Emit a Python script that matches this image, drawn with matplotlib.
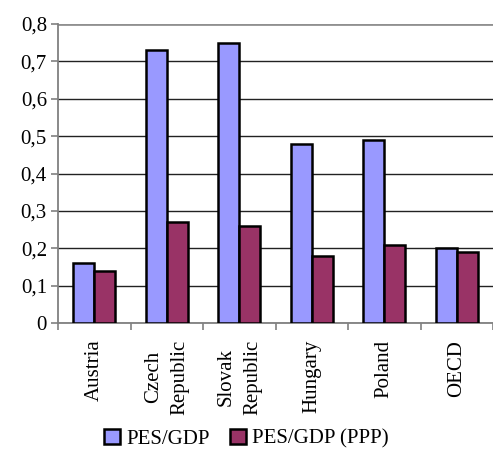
import numpy as np
import matplotlib.pyplot as plt
from matplotlib.ticker import FuncFormatter

categories = ["Austria", "Czech\nRepublic", "Slovak\nRepublic", "Hungary", "Poland", "OECD"]
pes_gdp = [0.16, 0.73, 0.75, 0.48, 0.49, 0.20]
pes_gdp_ppp = [0.14, 0.27, 0.26, 0.18, 0.21, 0.19]
series_names = ["PES/GDP", "PES/GDP (PPP)"]

plt.rcParams['font.family'] = ['Liberation Serif', 'DejaVu Serif']

fig = plt.figure(figsize=(4.93, 4.5), dpi=100)
ax = fig.add_axes([58 / 493, 1 - 323 / 450, 1 - 58 / 493, (323 - 24) / 450])

x = np.arange(len(categories))
w = 0.29
ax.bar(x - w / 2, pes_gdp, w, color="#9999FF", edgecolor="black", linewidth=1.8,
       label=series_names[0], zorder=3)
ax.bar(x + w / 2, pes_gdp_ppp, w, color="#993366", edgecolor="black", linewidth=1.8,
       label=series_names[1], zorder=3)

ax.set_ylim(0, 0.8)
ax.set_xlim(-0.5, 5.5 - 3 / 73)
ax.set_yticks(np.arange(0, 0.81, 0.1))
ax.yaxis.set_major_formatter(FuncFormatter(
    lambda v, p: "0" if abs(v) < 1e-9 else f"{v:.1f}".replace(".", ",")))
ax.grid(axis="y", color="#222222", linewidth=1.0, zorder=0)

# category ticks at the group boundaries, labels at centres
ax.set_xticks(np.arange(len(categories) + 1) - 0.5)
ax.set_xticklabels([])
ax.set_xticks(x, minor=True)
ax.set_xticklabels(categories, minor=True, rotation=90, fontsize=15,
                   va="top", ha="center", linespacing=1.55)
ax.tick_params(axis="x", which="minor", length=0, pad=12)
ax.tick_params(axis="x", which="major", length=5, color="#808080", width=1.2)
ax.tick_params(axis="y", length=5, color="#808080", width=1.2, labelsize=15, pad=3)

for s in ["top", "right"]:
    ax.spines[s].set_visible(False)
ax.spines["left"].set_color("#808080")
ax.spines["bottom"].set_color("#808080")
ax.spines["left"].set_linewidth(1.3)
ax.spines["bottom"].set_linewidth(1.3)
ax.get_ygridlines()[-1].set_color("#909090")
ax.get_ygridlines()[-1].set_linewidth(2)

fig.legend(loc="lower center", bbox_to_anchor=(0.5, -0.03), ncol=2, frameon=False,
           fontsize=15, handlelength=0.75, handleheight=0.75, handletextpad=0.3,
           columnspacing=1.0, borderaxespad=0.3)

fig.savefig("out.png", dpi=100)
